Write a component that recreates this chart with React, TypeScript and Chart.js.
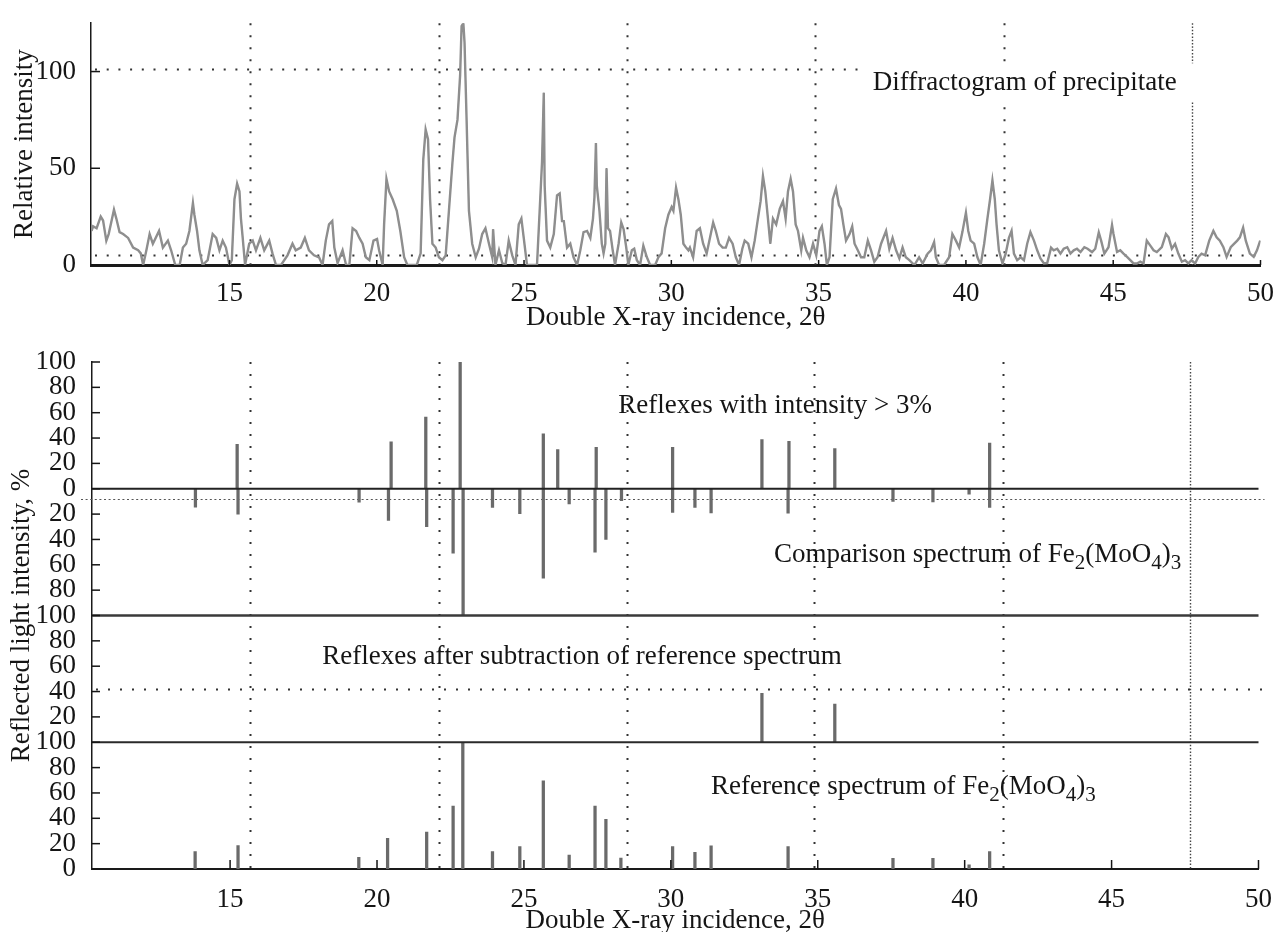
import React, { useEffect, useRef } from 'react';
import { Chart, registerables } from 'chart.js';

Chart.register(...registerables);

// ---------- axis / tick data ----------
const X_MIN = 10.3;
const X_MAX = 50;
const xTickValues = [15, 20, 25, 30, 35, 40, 45, 50];
const topYTickValues = [0, 50, 100];
const TOP_Y_MAX = 125;
// bottom panel stack: internal 0..100 = reference, 100..200 = subtraction, 200..400 = comparison (+/-100)
const bottomYTickLabels = ['0', '20', '40', '60', '80', '100', '20', '40', '60', '80', '100', '80', '60', '40', '20', '0', '20', '40', '60', '80', '100'];
const REF_BASE = 0;
const SUB_BASE = 100;
const COMP_BASE = 300;

// dotted marker lines (2θ)
const markerAngles = [15.69, 22.11, 28.51, 34.87, 41.3];
const denseMarkerAngle = 47.66;
const topLevelLines = [101.5, 5];
const bottomSparseLevels = [142];
const bottomDenseLevels = [292];

// ---------- diffractogram of precipitate (2θ, relative intensity) ----------
const diffractogram: [number, number][] = [
  [10.32, 17.6], [10.37, 20], [10.49, 19], [10.63, 25], [10.71, 23], [10.82, 12.6], [10.9, 16], [11.08, 28.6], [11.16, 24], [11.27, 17],
  [11.39, 16], [11.56, 14], [11.73, 9], [11.9, 7.6], [11.99, 6], [12.07, 0], [12.18, 7.6], [12.29, 16], [12.4, 11], [12.61, 17.6],
  [12.74, 9], [12.91, 12.6], [13.02, 7.6], [13.16, 0], [13.31, 0], [13.42, 9], [13.53, 11], [13.64, 17.6], [13.76, 32], [13.81, 26],
  [13.9, 17.6], [13.98, 7.6], [14.09, 0], [14.26, 2.5], [14.43, 16], [14.55, 14], [14.66, 7.6], [14.77, 12.6], [14.88, 9], [15.0, 0],
  [15.08, 2.5], [15.17, 34], [15.26, 42], [15.34, 38], [15.39, 24], [15.45, 14], [15.53, 0], [15.67, 11], [15.79, 12.6], [15.9, 7.6],
  [16.05, 14], [16.18, 7.6], [16.35, 12.6], [16.46, 6], [16.58, 0], [16.75, 0], [16.97, 5], [17.14, 11], [17.25, 7.6], [17.42, 9],
  [17.56, 14], [17.7, 7.6], [17.87, 5], [18.04, 4], [18.16, 0], [18.27, 12.6], [18.38, 21], [18.49, 22.7],
  [18.56, 9], [18.67, 1], [18.84, 7.6], [18.96, 0], [19.07, 0], [19.18, 19], [19.3, 17.6], [19.41, 14], [19.52, 11], [19.63, 4],
  [19.75, 2.5], [19.89, 12.6], [20.01, 13.4], [20.08, 7.6], [20.2, 0], [20.25, 21], [20.33, 44.5], [20.42, 38], [20.54, 34], [20.68, 28],
  [20.8, 17.6], [20.93, 4], [21.04, 0], [21.21, 0], [21.36, 0], [21.49, 6], [21.58, 54.6], [21.66, 70], [21.74, 65], [21.81, 34],
  [21.89, 11], [22.0, 9], [22.11, 4], [22.23, 2.5], [22.34, 5], [22.45, 28], [22.57, 53], [22.64, 66], [22.74, 75], [22.83, 98],
  [22.88, 123.5], [22.94, 125], [22.98, 115], [23.05, 75], [23.13, 28], [23.24, 11], [23.36, 4], [23.47, 8.4], [23.58, 16], [23.69, 19],
  [23.81, 11], [23.92, 4], [23.95, 18.5], [24.03, 0], [24.15, 7.6], [24.26, 1], [24.37, 0], [24.48, 12.6], [24.6, 5], [24.71, 0],
  [24.82, 21], [24.91, 24], [24.99, 14], [25.1, 0], [25.27, 0], [25.44, 0], [25.53, 28], [25.61, 53], [25.67, 89], [25.7, 41],
  [25.78, 12.6], [25.89, 9], [26.01, 16], [26.12, 36], [26.21, 37], [26.29, 22.7],
  [26.35, 22.7], [26.46, 9], [26.57, 11], [26.68, 4], [26.8, 0], [26.91, 7.6], [27.02, 17], [27.14, 17.6], [27.25, 14], [27.34, 24],
  [27.39, 35], [27.44, 63], [27.47, 41], [27.56, 28], [27.64, 11], [27.7, 6], [27.76, 11], [27.8, 50], [27.85, 19], [27.92, 17.6],
  [28.01, 7.6], [28.09, 0], [28.21, 11], [28.3, 22], [28.38, 18.5], [28.47, 9], [28.54, 0], [28.66, 7.6], [28.74, 8.4], [28.83, 2.5],
  [28.94, 0], [29.05, 10], [29.17, 4], [29.28, 0], [29.45, 0], [29.56, 4], [29.67, 6], [29.79, 19], [29.9, 26], [30.01, 30],
  [30.07, 28], [30.16, 40], [30.24, 34], [30.32, 26], [30.41, 11], [30.5, 9], [30.58, 7.6], [30.63, 9], [30.74, 4], [30.86, 17.6],
  [30.97, 19], [31.08, 11], [31.2, 6], [31.31, 14], [31.42, 22], [31.51, 17.6], [31.62, 11], [31.74, 9], [31.85, 9], [31.96, 14],
  [32.08, 11], [32.19, 4], [32.3, 0], [32.41, 8.4], [32.49, 12.6], [32.61, 11], [32.72, 4], [32.83, 12.6], [32.94, 24], [33.03, 33],
  [33.11, 46], [33.19, 38], [33.28, 24], [33.36, 11], [33.45, 24], [33.56, 21], [33.68, 29], [33.79, 33], [33.88, 24], [33.96, 38],
  [34.05, 44.5], [34.13, 38], [34.22, 21], [34.3, 17.6], [34.41, 7.6],
  [34.47, 14], [34.58, 7.6], [34.69, 4], [34.81, 11], [34.92, 5], [35.03, 17.6], [35.11, 20], [35.2, 11], [35.28, 0], [35.37, 4],
  [35.48, 34], [35.59, 39.5], [35.69, 31], [35.76, 29], [35.84, 21], [35.93, 12.6], [36.05, 16], [36.14, 20], [36.22, 11], [36.33, 7.6],
  [36.44, 4], [36.55, 4], [36.67, 12.6], [36.78, 7.6], [36.89, 1.7], [37.0, 4], [37.12, 11], [37.29, 17.6], [37.4, 8.4], [37.51, 14],
  [37.63, 7.6], [37.74, 3.4], [37.85, 9], [37.96, 4], [38.08, 2.5], [38.25, 0], [38.41, 4], [38.53, 0.8], [38.7, 5.9], [38.81, 7.6],
  [38.92, 11.8], [38.98, 4], [39.09, 0], [39.26, 0], [39.43, 4], [39.54, 16], [39.66, 12.6], [39.77, 9], [39.88, 17], [40.0, 27],
  [40.08, 17.6], [40.16, 12.6], [40.28, 11], [40.39, 4], [40.5, 0], [40.62, 11], [40.73, 24], [40.82, 34], [40.9, 43.7], [40.98, 34],
  [41.04, 21], [41.12, 7.6], [41.24, 0.8], [41.35, 5.9], [41.46, 14], [41.55, 17.6], [41.63, 5.9], [41.74, 2.5], [41.86, 4], [41.97, 2.5],
  [42.08, 11], [42.19, 17], [42.31, 12.6], [42.42, 7.6], [42.53, 3.4], [42.65, 0.8],
  [42.76, 1], [42.89, 9], [42.98, 7.6], [43.1, 8.4], [43.21, 5.9], [43.32, 8.4], [43.44, 9.2], [43.55, 5.9], [43.66, 7.6], [43.77, 8.4],
  [43.89, 6.7], [44.02, 9.2], [44.13, 8.4], [44.28, 6.7], [44.39, 8.4], [44.51, 16.8], [44.59, 12.6], [44.7, 5.9], [44.84, 9.2], [44.96, 20.7],
  [45.01, 16], [45.13, 6.7], [45.24, 7.6], [45.35, 5.9], [45.47, 4.2], [45.58, 2.5], [45.69, 0.8], [45.8, 0.8], [45.92, 1.7], [46.03, 0.8],
  [46.14, 12.6], [46.26, 10], [46.37, 7.6], [46.48, 6.7], [46.65, 9.2], [46.79, 16], [46.88, 14.3], [46.99, 8.4], [47.1, 10.9], [47.21, 5.9],
  [47.33, 1.7], [47.44, 2.5], [47.55, 0.8], [47.66, 2.5], [47.78, 0.8], [47.89, 4.2], [48.0, 5.9], [48.12, 5], [48.26, 12.6], [48.4, 17.6],
  [48.51, 14.3], [48.62, 12.6], [48.74, 9.2], [48.85, 4.2], [48.99, 9.2], [49.1, 10.9], [49.21, 12.6], [49.3, 14.3], [49.41, 19.3], [49.5, 12.6],
  [49.64, 5.9], [49.77, 4.2], [49.88, 7.6], [49.99, 12.6],
];

// ---------- reflex sticks (2θ, %) ----------
const reflexesAbove3: [number, number][] = [
  [15.24, 35], [20.48, 37], [21.66, 56.6], [22.83, 100], [25.66, 43.4], [26.15, 31], [27.46, 32.6],
  [30.06, 32.6], [33.1, 38.7], [34.02, 37.4], [35.58, 31.6], [40.85, 36],
];
const comparisonSpectrum: [number, number][] = [
  [13.82, 14.5], [15.27, 20], [19.39, 10.5], [20.39, 25], [21.69, 30], [22.59, 50.8], [22.93, 100], [23.93, 14.7],
  [24.86, 19.7], [25.66, 70.5], [26.54, 12], [27.42, 50], [27.79, 40], [28.32, 9.5], [30.06, 18.7], [30.82, 14.7],
  [31.37, 19], [33.99, 19.2], [37.56, 10], [38.92, 10.3], [40.15, 4.2], [40.85, 14.7],
];
const subtractionReflexes: [number, number][] = [[33.1, 38.6], [35.58, 30.2]];
const referenceSpectrum: [number, number][] = [
  [13.81, 13.7], [15.27, 18.4], [19.38, 9.2], [20.36, 24.2], [21.69, 29.2], [22.59, 49.7], [22.92, 100], [23.93, 13.7],
  [24.86, 17.6], [25.66, 69.5], [26.54, 11], [27.42, 49.7], [27.79, 39.2], [28.3, 8.7], [30.06, 17.6], [30.82, 13.2],
  [31.37, 18.2], [33.99, 17.6], [37.56, 8.4], [38.92, 8.4], [40.15, 3.2], [40.85, 13.7],
];

// ---------- text ----------
const topLabel = { text: 'Diffractogram of precipitate', angle: 36.84, value: 90.3 };
const panelLabels = [
  { text: 'Reflexes with intensity > 3%', angle: 28.21, value: 359.5 },
  { text: 'Comparison spectrum of Fe_2(MoO_4)_3', angle: 33.51, value: 242.4 },
  { text: 'Reflexes after subtraction of reference spectrum', angle: 18.14, value: 161.7 },
  { text: 'Reference spectrum of Fe_2(MoO_4)_3', angle: 31.37, value: 59.2 },
];

const FONT = '"Liberation Serif", "Times New Roman", serif';
const FS = 27;
const INK = '#151515';
const STICK = '#6a6a6a';

function line(ctx: CanvasRenderingContext2D, x1: number, y1: number, x2: number, y2: number, dash: number[], width: number, color: string) {
  ctx.save();
  ctx.beginPath();
  ctx.setLineDash(dash);
  ctx.lineWidth = width;
  ctx.strokeStyle = color;
  ctx.moveTo(x1, y1);
  ctx.lineTo(x2, y2);
  ctx.stroke();
  ctx.restore();
}

function drawRich(ctx: CanvasRenderingContext2D, text: string, x: number, y: number) {
  const parts = text.split(/(_\d)/).filter((p) => p.length > 0);
  let cx = x;
  ctx.save();
  ctx.fillStyle = INK;
  ctx.textBaseline = 'alphabetic';
  ctx.textAlign = 'left';
  for (const p of parts) {
    if (p.startsWith('_')) {
      ctx.font = `${Math.round(FS * 0.78)}px ${FONT}`;
      const t = p.slice(1);
      ctx.fillText(t, cx, y + 7);
      cx += ctx.measureText(t).width;
    } else {
      ctx.font = `${FS}px ${FONT}`;
      ctx.fillText(p, cx, y);
      cx += ctx.measureText(p).width;
    }
  }
  ctx.restore();
  return cx;
}

const topDecor = {
  id: 'topDecor',
  beforeDatasetsDraw(chart: any) {
    const { ctx, chartArea: a, scales } = chart;
    const x = scales.x;
    const y = scales.y;
    for (const m of markerAngles) {
      const px = Math.round(x.getPixelForValue(m)) + 0.5;
      line(ctx, px, a.top, px, a.bottom, [2, 10], 2, '#333');
    }
    const dpx = Math.round(x.getPixelForValue(denseMarkerAngle)) + 0.5;
    line(ctx, dpx, a.top, dpx, a.bottom, [1.5, 1.8], 1.4, '#444');
    for (const lv of topLevelLines) {
      const py = Math.round(y.getPixelForValue(lv)) + 0.5;
      line(ctx, a.left + 4, py, a.right, py, [2, 9.7], 2, '#333');
    }
  },
  afterDatasetsDraw(chart: any) {
    const { ctx, chartArea: a, scales } = chart;
    const x = scales.x;
    const y = scales.y;
    for (const v of topYTickValues) {
      const py = y.getPixelForValue(v);
      line(ctx, a.left, py, a.left + 9, py, [], 1.5, INK);
    }
    for (const v of xTickValues) {
      const px = x.getPixelForValue(v);
      line(ctx, px, a.bottom, px, a.bottom - 5, [], 1.5, INK);
    }
    const lx = x.getPixelForValue(topLabel.angle);
    const ly = y.getPixelForValue(topLabel.value);
    ctx.save();
    ctx.fillStyle = '#ffffff';
    ctx.fillRect(lx - 9, ly - 27, a.right - lx + 12, 38);
    ctx.restore();
    drawRich(ctx, topLabel.text, lx, ly);
  },
};

const bottomDecor = {
  id: 'bottomDecor',
  beforeDatasetsDraw(chart: any) {
    const { ctx, chartArea: a, scales } = chart;
    const x = scales.x;
    const y = scales.y;
    for (const m of markerAngles) {
      const px = Math.round(x.getPixelForValue(m)) + 0.5;
      line(ctx, px, a.top, px, a.bottom, [2, 10], 2, '#333');
    }
    const dpx = Math.round(x.getPixelForValue(denseMarkerAngle)) + 0.5;
    line(ctx, dpx, a.top, dpx, a.bottom, [1.5, 1.8], 1.4, '#444');
    for (const lv of bottomSparseLevels) {
      const py = Math.round(y.getPixelForValue(lv)) + 0.5;
      line(ctx, a.left + 4, py, a.right + 4, py, [2, 10], 2, '#333');
    }
    for (const lv of bottomDenseLevels) {
      const py = Math.round(y.getPixelForValue(lv)) + 0.5;
      line(ctx, a.left - 11, py, a.right + 6, py, [2, 2.6], 1.2, '#555');
    }
  },
  afterDatasetsDraw(chart: any) {
    const { ctx, chartArea: a, scales } = chart;
    const x = scales.x;
    const y = scales.y;
    const panelLines: [number, number, string][] = [[COMP_BASE, 1.8, '#222'], [SUB_BASE + 100, 2.5, '#3a3a3a'], [SUB_BASE, 2, '#2a2a2a']];
    for (const [v, w, c] of panelLines) {
      const py = y.getPixelForValue(v);
      line(ctx, a.left, py, a.right, py, [], w, c);
    }
    for (let i = 0; i < bottomYTickLabels.length; i++) {
      const py = y.getPixelForValue(i * 20);
      line(ctx, a.left, py, a.left + 8, py, [], 1.5, INK);
    }
    for (const v of xTickValues) {
      const px = x.getPixelForValue(v);
      line(ctx, px, a.bottom, px, a.bottom - 9, [], 1.5, INK);
    }
    for (const l of panelLabels) {
      drawRich(ctx, l.text, x.getPixelForValue(l.angle), y.getPixelForValue(l.value));
    }
  },
};

const tickFont = { family: FONT, size: FS };

export default function App() {
  const topRef = useRef<HTMLCanvasElement | null>(null);
  const bottomRef = useRef<HTMLCanvasElement | null>(null);

  useEffect(() => {
    const trace = diffractogram.map(([x, y]) => ({ x, y }));
    const top = new Chart(topRef.current as HTMLCanvasElement, {
      type: 'line',
      data: {
        datasets: [
          { data: trace, borderColor: '#8e8e8e', borderWidth: 2.4, pointRadius: 0, tension: 0, fill: false },
          { data: trace, borderColor: 'rgba(30,30,30,0.55)', borderWidth: 1, pointRadius: 0, tension: 0, fill: false },
        ],
      },
      options: {
        responsive: false,
        animation: false,
        events: [],
        layout: { padding: { left: 0, right: 14, top: 17, bottom: 0 } },
        plugins: { legend: { display: false }, tooltip: { enabled: false } },
        scales: {
          x: {
            type: 'linear', min: X_MIN, max: X_MAX, offset: false,
            grid: { display: false },
            border: { display: true, color: '#1a1a1a', width: 3 },
            ticks: { font: tickFont, color: INK, padding: 5, autoSkip: false, maxRotation: 0 },
            afterBuildTicks: (ax: any) => { ax.ticks = xTickValues.map((v) => ({ value: v })); },
            afterFit: (ax: any) => { ax.height = 75; },
            title: { display: true, text: 'Double X-ray incidence, 2θ', font: tickFont, color: INK, padding: { top: 0, bottom: 6 } },
          },
          y: {
            type: 'linear', min: 0, max: TOP_Y_MAX,
            grid: { display: false },
            border: { display: true, color: '#1a1a1a', width: 1.5 },
            ticks: { font: tickFont, color: INK, padding: 7, autoSkip: false },
            afterBuildTicks: (ax: any) => { ax.ticks = topYTickValues.map((v) => ({ value: v })); },
            afterFit: (ax: any) => { ax.width = 91; },
            title: { display: true, text: 'Relative intensity', font: tickFont, color: INK, padding: { top: 9, bottom: 0 } },
          },
        },
      } as any,
      plugins: [topDecor as any],
    });

    const stick = (arr: [number, number][], lo: (v: number) => number, hi: (v: number) => number) =>
      arr.map(([x, v]) => ({ x, y: [lo(v), hi(v)] }));

    const barStyle = { backgroundColor: STICK, borderWidth: 0, barThickness: 2.6, grouped: false };
    const bottom = new Chart(bottomRef.current as HTMLCanvasElement, {
      type: 'bar',
      data: {
        datasets: [
          { ...barStyle, data: stick(reflexesAbove3, () => COMP_BASE, (v) => COMP_BASE + v) },
          { ...barStyle, data: stick(comparisonSpectrum, (v) => COMP_BASE - v, () => COMP_BASE) },
          { ...barStyle, data: stick(subtractionReflexes, () => SUB_BASE, (v) => SUB_BASE + v) },
          { ...barStyle, data: stick(referenceSpectrum, () => REF_BASE, (v) => REF_BASE + v) },
        ] as any,
      },
      options: {
        responsive: false,
        animation: false,
        events: [],
        layout: { padding: { left: 0, right: 15, top: 22, bottom: 0 } },
        plugins: { legend: { display: false }, tooltip: { enabled: false } },
        scales: {
          x: {
            type: 'linear', min: X_MIN, max: X_MAX, offset: false,
            grid: { display: false },
            border: { display: true, color: '#1a1a1a', width: 2 },
            ticks: { font: tickFont, color: INK, padding: 7, autoSkip: false, maxRotation: 0 },
            afterBuildTicks: (ax: any) => { ax.ticks = xTickValues.map((v) => ({ value: v })); },
            afterFit: (ax: any) => { ax.height = 63; },
            title: { display: true, text: 'Double X-ray incidence, 2θ', font: { family: FONT, size: FS, lineHeight: 0.85 }, color: INK, padding: { top: 0, bottom: 0 } },
          },
          y: {
            type: 'linear', min: 0, max: 400,
            grid: { display: false },
            border: { display: true, color: '#1a1a1a', width: 1.5 },
            ticks: {
              font: { family: FONT, size: FS, lineHeight: 1 }, color: INK, padding: 8, autoSkip: false,
              callback: (v: any) => bottomYTickLabels[Math.round(Number(v) / 20)] ?? '',
            },
            afterBuildTicks: (ax: any) => { ax.ticks = bottomYTickLabels.map((_, i) => ({ value: i * 20 })); },
            afterFit: (ax: any) => { ax.width = 92; },
            title: { display: true, text: 'Reflected light intensity, %', font: tickFont, color: INK, padding: { top: 6, bottom: 0 } },
          },
        },
      } as any,
      plugins: [bottomDecor as any],
    });

    return () => {
      top.destroy();
      bottom.destroy();
    };
  }, []);

  return (
    <div style={{ position: 'absolute', left: 0, top: 0, width: 1279, height: 932, background: '#fff', overflow: 'hidden' }}>
      <canvas ref={topRef} width={1279} height={340} style={{ position: 'absolute', left: 0, top: 0 }} />
      <canvas ref={bottomRef} width={1279} height={592} style={{ position: 'absolute', left: 0, top: 340 }} />
    </div>
  );
}
